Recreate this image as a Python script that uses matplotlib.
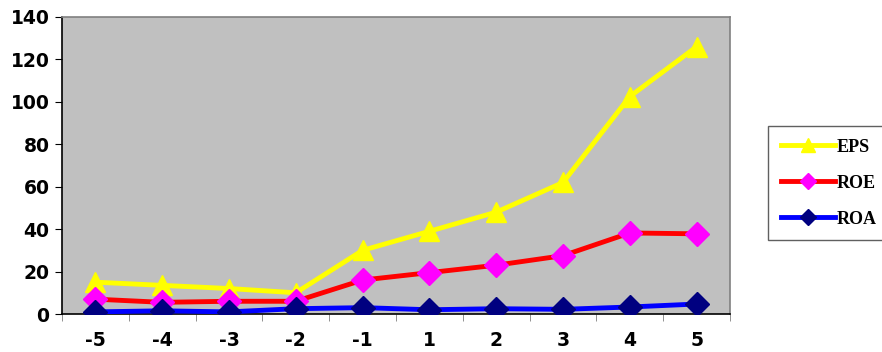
import numpy as np
import matplotlib.pyplot as plt

# jahre relativ zum ereignis
years = ['-5', '-4', '-3', '-2', '-1', '1', '2', '3', '4', '5']

# kennzahlen
eps = [15, 13.5, 12, 10, 30, 39, 48, 62, 102.5, 126]
roe = [7, 5.5, 6, 6, 16, 19.5, 23, 27.5, 38.2, 37.8]
roa = [1, 1.5, 1, 2.5, 3, 2, 2.5, 2.2, 3.3, 4.7]

fig = plt.figure(figsize=(8.82, 3.52), dpi=100)
ax = fig.add_axes([62/882, 38/352, 668/882, 297/352])
ax.set_facecolor('#c0c0c0')

x = np.arange(len(years))
ax.plot(x, eps, color='#ffff00', lw=3.5, marker='^', ms=15,
        mfc='#ffff00', mec='#ffff00', label='EPS', zorder=3)
ax.plot(x, roe, color='#ff0000', lw=3.5, marker='D', ms=12,
        mfc='#ff00ff', mec='#ff00ff', label='ROE', zorder=3)
ax.plot(x, roa, color='#0000ff', lw=3.5, marker='D', ms=12,
        mfc='#000080', mec='#000080', label='ROA', zorder=3)

ax.set_xlim(-0.5, len(years) - 0.5)
ax.set_ylim(0, 140)
ax.set_yticks(np.arange(0, 141, 20))

# kategorie-beschriftung in der mitte, striche an den grenzen
ax.set_xticks(x)
ax.set_xticklabels(years)
ax.set_xticks(np.arange(-0.5, len(years)), minor=True)
ax.tick_params(axis='x', which='major', length=0, pad=12)
ax.tick_params(axis='x', which='minor', length=5, color='#808080', direction='out')
ax.tick_params(axis='y', length=5, direction='out', pad=4)

for lab in ax.get_xticklabels() + ax.get_yticklabels():
    lab.set_fontweight('bold')
    lab.set_fontsize(13.5)
    lab.set_fontfamily('DejaVu Sans')

ax.spines['left'].set_color('black')
ax.spines['bottom'].set_color('black')
ax.spines['top'].set_color('#808080')
ax.spines['right'].set_color('#808080')
for s in ax.spines.values():
    s.set_linewidth(1.2)

leg = fig.legend(loc='upper left', bbox_to_anchor=(768/882, 226/352),
                 borderaxespad=0,
                 prop={'family': 'Liberation Serif', 'weight': 'bold', 'size': 13},
                 handlelength=3.0, handletextpad=0.1, labelspacing=1.05,
                 borderpad=0.7, fancybox=False, framealpha=1, markerscale=0.7)
leg.get_frame().set_edgecolor('#606060')
leg.get_frame().set_linewidth(1.0)

plt.savefig('out.png', dpi=100)
